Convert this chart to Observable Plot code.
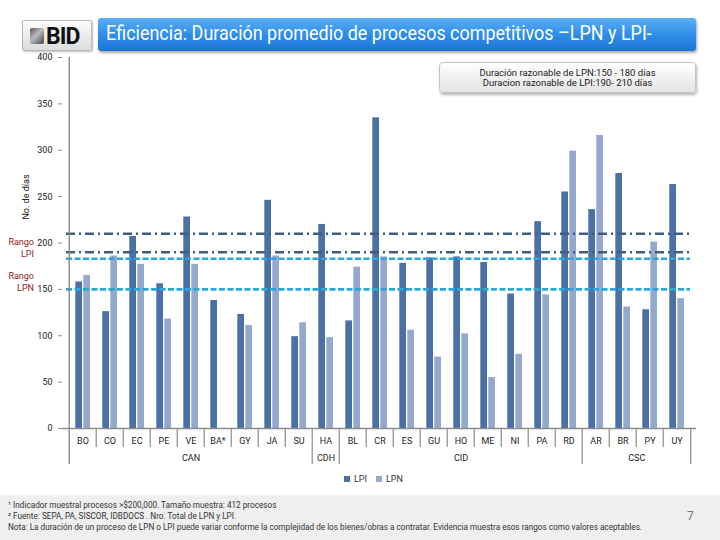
<!DOCTYPE html>
<html>
<head>
<meta charset="utf-8">
<script src="https://cdn.jsdelivr.net/npm/d3@7"></script>
<script src="https://cdn.jsdelivr.net/npm/@observablehq/plot@0.6"></script>
<style>
  html, body { margin: 0; padding: 0; background: #fff; }
  body { width: 720px; height: 540px; overflow: hidden; font-family: Roboto, "DejaVu Sans", sans-serif; }
  #page { position: relative; width: 720px; height: 540px; }
  #chart { position: absolute; left: 0; top: 0; }
  .logo { position: absolute; left: 22px; top: 20px; width: 70px; height: 31px; box-sizing: border-box;
    border: 1px solid #b9b9b9; border-radius: 2px; background: linear-gradient(#fdfdfd, #dcdcdc);
    box-shadow: 1px 1px 2px rgba(0,0,0,0.25); }
  .logo .mark { position: absolute; left: 7px; top: 7px; width: 14px; height: 16px;
    background: linear-gradient(135deg, #555 0%, #bbb 45%, #444 100%); border-radius: 2px; }
  .logo .txt { position: absolute; left: 23px; top: 2px; font: bold 23px Roboto, sans-serif; color: #111; letter-spacing: -1px; }
  .banner { position: absolute; left: 98px; top: 18px; width: 598px; height: 33px; box-sizing: border-box;
    border-radius: 3px; background: linear-gradient(#5aaef5, #2d8be6 55%, #1c74d2);
    box-shadow: 1px 2px 3px rgba(0,0,0,0.35); color: #fff; font-size: 19.5px; line-height: 32px; padding-left: 8px; white-space: nowrap; }
  .banner span { display: inline-block; transform: scaleX(0.92); transform-origin: left center; }
  .note { position: absolute; left: 439px; top: 62px; width: 257px; height: 31px; box-sizing: border-box;
    border: 1px solid #c4c4c4; border-radius: 4px; background: linear-gradient(#ffffff, #e4e4e4);
    box-shadow: 1px 2px 3px rgba(0,0,0,0.3); text-align: center; font-size: 9.5px; line-height: 10px; padding-top: 5px; color: #1a1a1a; }
  .ylab { position: absolute; left: 26px; top: 197px; transform: translate(-50%, -50%) rotate(-90deg); font-size: 9px; color: #222; white-space: nowrap; }
  .rango { position: absolute; right: 686px; text-align: right; font-size: 9px; line-height: 12px; color: #8e1b24; }
  .legend { position: absolute; left: 344px; top: 474px; font-size: 9px; color: #333; white-space: nowrap; }
  .legend span.sw { display: inline-block; width: 6px; height: 6px; margin-right: 4px; vertical-align: 0px; }
  .legend span.item { margin-right: 9px; }
  .footer { position: absolute; left: 0; top: 495px; width: 720px; height: 45px; background: #efefef; }
  .footer div { position: absolute; left: 8px; font-size: 8.2px; color: #333; white-space: nowrap; }
  .pageno { position: absolute; left: 687px; top: 509px; font-size: 12px; color: #777; }
</style>
</head>
<body>
<div id="page">
  <div id="chart"></div>
  <div class="logo"><div class="mark"></div><div class="txt">BID</div></div>
  <div class="banner"><span id="title"></span></div>
  <div class="note" id="note"></div>
  <div class="ylab" id="ylab"></div>
  <div class="rango" id="rangoLPI" style="top:236px"></div>
  <div class="rango" id="rangoLPN" style="top:270px"></div>
  <div class="legend" id="legend"></div>
  <div class="footer" id="footer"></div>
  <div class="pageno" id="pageno"></div>
</div>
<script>
// Countries (by department group) and average process duration in days
const categories = ["BO","CO","EC","PE","VE","BA*","GY","JA","SU","HA","BL","CR","ES","GU","HO","ME","NI","PA","RD","AR","BR","PY","UY"];
const lpiDays = [158,126,207,156,228,138,123,246,99,220,116,335,178,184,185,179,145,223,255,236,275,128,263];
const lpnDays = [165,186,177,118,177,null,111,186,114,98,174,185,106,77,102,55,80,144,299,316,131,201,140];

// Department groups: name, first and last country
const groupNames = ["CAN","CDH","CID","CSC"];
const groupFirst = ["BO","HA","BL","AR"];
const groupLast = ["SU","HA","RD","UY"];

// Reasonable duration ranges (days)
const lpiRange = [210, 190];
const lpnRange = [183, 150];

const yTicks = [0,50,100,150,200,250,300,350,400];
const seriesNames = ["LPI","LPN"];
const seriesColors = ["#4a70a6","#95a9cf"];

const titleText = "Eficiencia: Duración promedio de procesos competitivos –LPN y LPI-";
const noteLines = ["Duración razonable de LPN:150 - 180 días", "Duracion razonable de LPI:190- 210 días"];
const yLabel = "No. de días";
const footnotes = [
  "¹ Indicador muestral procesos >$200,000. Tamaño muestra: 412 procesos",
  "² Fuente: SEPA, PA, SISCOR, IDBDOCS . Nro. Total de LPN y LPI.",
  "Nota: La duración de un proceso de LPN o LPI puede variar conforme la complejidad de los bienes/obras a contratar. Evidencia muestra esos rangos como valores aceptables."
];

const lpi = categories.map((c, i) => ({cat: c, value: lpiDays[i]}));
const lpn = categories.map((c, i) => ({cat: c, value: lpnDays[i]})).filter(d => d.value != null);

const W = 720, H = 500, mL = 62, mR = 24, mT = 57, mB = 72;
const bw = (W - mL - mR) / categories.length;
const gray = "#8c8c8c";

const starts = new Set(groupFirst);
const innerSeps = categories.filter(c => !starts.has(c));
const sepStyle = {x: d => d, dx: -bw / 2, stroke: gray, strokeWidth: 1.2, insetTop: H - mT - mB};

// group labels: odd-sized groups sit on their middle country, even-sized ones between the two middle countries
const groups = groupNames.map((g, i) => {
  const a = categories.indexOf(groupFirst[i]), b = categories.indexOf(groupLast[i]);
  return {g, mid: categories[Math.floor((a + b) / 2)], even: (a + b) % 2 === 1};
});
const groupText = {x: "mid", text: "g", frameAnchor: "bottom", lineAnchor: "middle", dy: 30, fill: "#222", fontSize: 9};

const chart = Plot.plot({
  width: W, height: H,
  marginLeft: mL, marginRight: mR, marginTop: mT, marginBottom: mB,
  style: {fontFamily: 'Roboto, "DejaVu Sans", sans-serif', fontSize: "9px", color: "#333", background: "transparent"},
  x: {domain: categories, padding: 0, tickSize: 0, tickPadding: 9, label: null},
  y: {domain: [0, 400], ticks: yTicks, tickSize: 4, tickPadding: 6, label: null, tickFormat: d => d},
  marks: [
    Plot.barY(lpi, {x: "cat", y: "value", fill: seriesColors[0], insetLeft: 6.3, insetRight: 14.0}),
    Plot.barY(lpn, {x: "cat", y: "value", fill: seriesColors[1], insetLeft: 14.3, insetRight: 6.0}),
    Plot.ruleY(lpiRange, {stroke: "#3e5e80", strokeWidth: 2.6, strokeDasharray: "9,4,2,4", insetLeft: 4, insetRight: 6}),
    Plot.ruleY(lpnRange, {stroke: "#27a8da", strokeWidth: 2.6, strokeDasharray: "6,2.5", insetLeft: 4, insetRight: 6}),
    Plot.ruleY([0], {stroke: gray, strokeWidth: 1.4}),
    // left axis line, continued down as the first group boundary
    Plot.ruleX(["BO"], {x: d => d, dx: -bw / 2, stroke: gray, strokeWidth: 1.4, insetBottom: -36}),
    // separators between countries and between groups
    Plot.ruleX(innerSeps, {...sepStyle, insetBottom: -19}),
    Plot.ruleX(groupFirst.slice(1), {...sepStyle, insetBottom: -36}),
    Plot.ruleX(groupLast.slice(-1), {...sepStyle, dx: bw / 2, insetBottom: -36}),
    Plot.text(groups.filter(d => !d.even), {...groupText}),
    Plot.text(groups.filter(d => d.even), {...groupText, dx: bw / 2})
  ]
});
document.getElementById("chart").appendChild(chart);

// axis colouring
const css = document.createElement("style");
css.textContent = `
  #chart svg g[aria-label^="y-axis"] line, #chart svg g[aria-label^="y-axis"] path { stroke: ${gray}; }
  #chart svg g[aria-label^="y-axis"] path.domain { display: none; }
  #chart svg g[aria-label^="x-axis"] path.domain { display: none; }
  #chart svg text { fill: #222; }
`;
document.head.appendChild(css);

document.getElementById("title").textContent = titleText;
document.getElementById("note").innerHTML = noteLines.join("<br>");
document.getElementById("ylab").textContent = yLabel;
document.getElementById("rangoLPI").innerHTML = "Rango<br>LPI";
document.getElementById("rangoLPN").innerHTML = "Rango<br>LPN";
document.getElementById("legend").innerHTML = seriesNames.map((s, i) =>
  `<span class="item"><span class="sw" style="background:${seriesColors[i]}"></span>${s}</span>`).join("");
const footer = document.getElementById("footer");
footnotes.forEach((t, i) => {
  const d = document.createElement("div");
  d.style.top = (5 + i * 11) + "px";
  d.textContent = t;
  footer.appendChild(d);
});
document.getElementById("pageno").textContent = "7";
</script>
</body>
</html>
